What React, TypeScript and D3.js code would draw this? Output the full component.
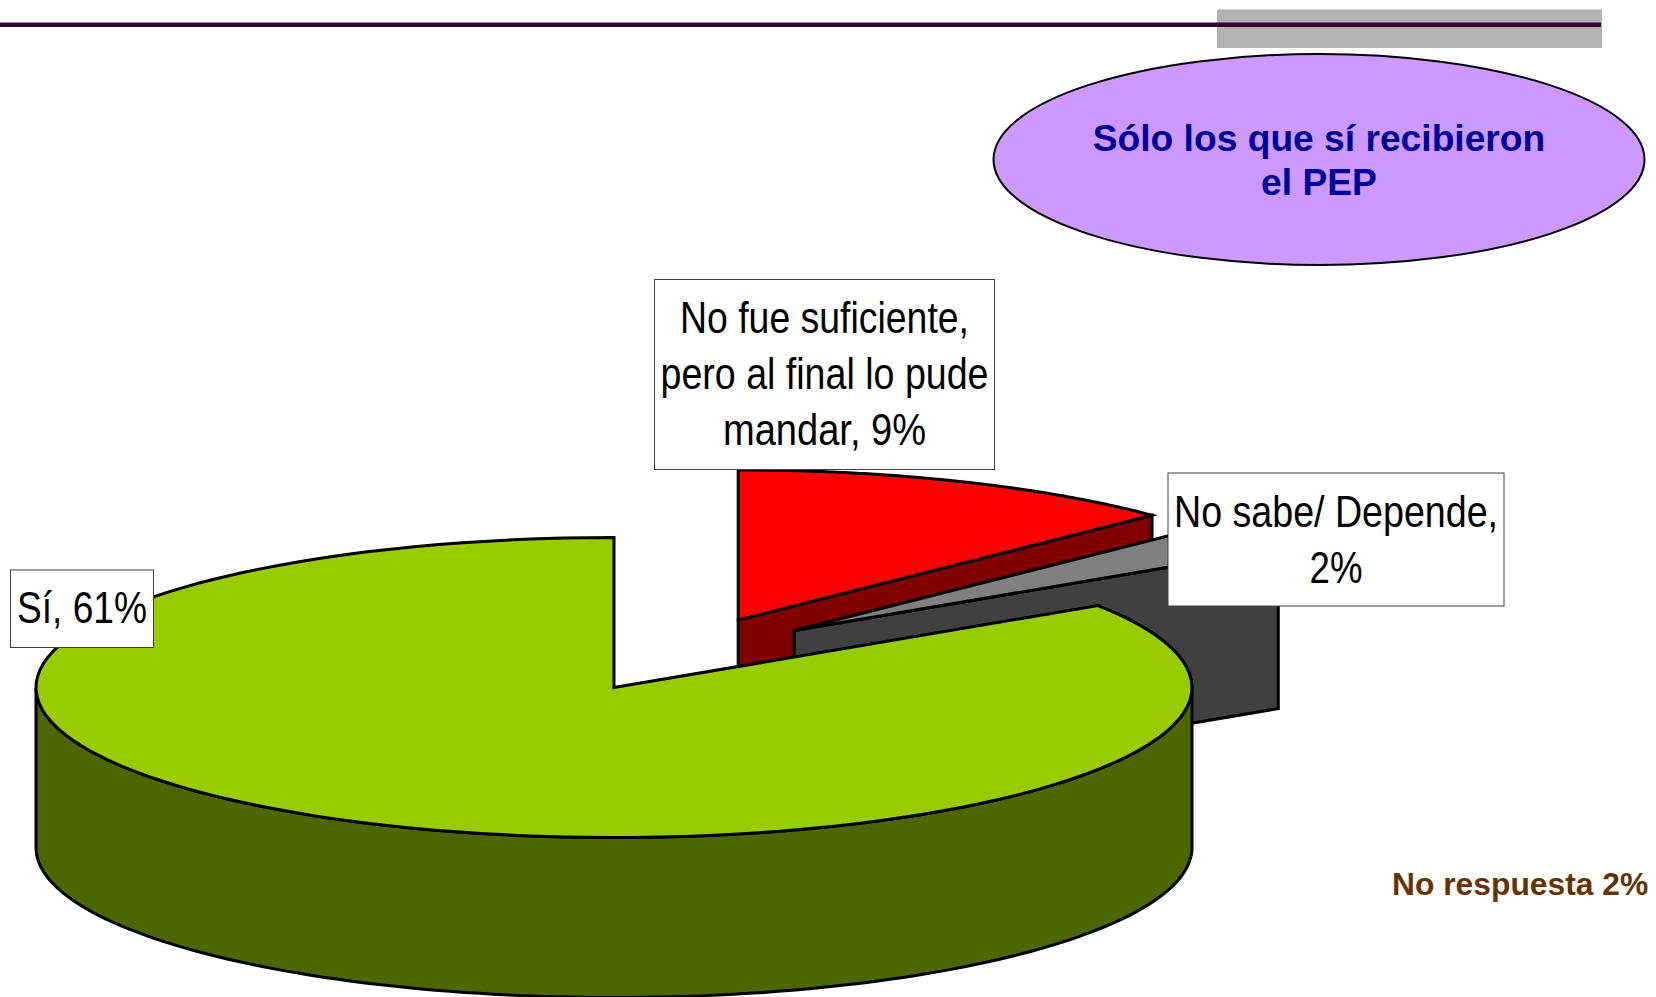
import React from "react";
import * as d3 from "d3";

// slice order round the pie, clockwise from 12 o'clock
const sliceNames = ["No fue suficiente", "No sabe", "Si"];
// share of the circle as actually drawn (the printed labels do not agree with it)
const drawnShares = [12.7, 3.1, 84.2];
const topColors = ["#ff0000", "#808080", "#99cc00"];
const wallColors = ["#800000", "#404040", "#4d6600"];

const labelLines = [
  ["No fue suficiente,", "pero al final lo pude", "mandar, 9%"],
  ["No sabe/ Depende,", "2%"],
  ["Sí, 61%"],
];
const labelWidths = [[289, 328, 203], [324, 53], [130]];
const noteText = "No respuesta 2%";
const badgeLines = ["Sólo los que sí recibieron", "el PEP"];

const width = 1656;
const height = 997;
const rx = 578;
const ry = 150;
const depth = 160;
const apexes = [
  { x: 738.2, y: 620 },
  { x: 794.2, y: 630.5 },
  { x: 614, y: 687.5 },
];
const boxes = [
  { x: 654.5, y: 279.5, w: 340, h: 190, base: 333 },
  { x: 1168, y: 473, w: 336, h: 133, base: 527 },
  { x: 10.5, y: 570, w: 143, h: 77.5, base: 623 },
];
const lineGap = 56;

const arcs = d3.pie<number>().sort(null)(drawnShares);
const pathLine = d3.line<[number, number]>();

// point on the rim of an exploded slice, angle clockwise from the top
const rim = (i: number, a: number, drop = 0): [number, number] => [
  apexes[i].x + rx * Math.sin(a),
  apexes[i].y - ry * Math.cos(a) + drop,
];

const sweep = (i: number, a0: number, a1: number, drop = 0) =>
  d3.range(0, 121).map((k) => rim(i, a0 + ((a1 - a0) * k) / 120, drop));

const topFace = (i: number) => {
  const { x, y } = apexes[i];
  const pts: [number, number][] = [[x, y], ...sweep(i, arcs[i].startAngle, arcs[i].endAngle)];
  return pathLine(pts) + "Z";
};

// flat wall under the cut at the end of a slice
const cutWall = (i: number) => {
  const { x, y } = apexes[i];
  const end = rim(i, arcs[i].endAngle);
  return (
    pathLine([
      [x, y],
      end,
      [end[0], end[1] + depth],
      [x, y + depth],
    ]) + "Z"
  );
};

// curved front of the big slice, from 3 o'clock round to 9 o'clock
const frontWall = () => {
  const front = sweep(2, Math.PI / 2, (3 * Math.PI) / 2);
  const back = sweep(2, (3 * Math.PI) / 2, Math.PI / 2, depth);
  return pathLine([...front, ...back]) + "Z";
};

const App = () => {
  const font = "'Liberation Sans', Arial, sans-serif";
  return (
    <svg
      width={width}
      height={height}
      style={{ position: "absolute", left: 0, top: 0, display: "block", background: "#fff" }}
      fontFamily={font}
    >
      <rect x={1217} y={9.5} width={385} height={38.5} fill="#b2b2b2" />
      <rect x={0} y={22.5} width={1601} height={4.5} fill="#330033" />

      <ellipse cx={1319} cy={159.5} rx={325.5} ry={105.5} fill="#cc99ff" stroke="#000" strokeWidth={2} />
      {badgeLines.map((t, i) => (
        <text
          key={t}
          x={1319}
          y={151 + i * 44}
          textAnchor="middle"
          fontSize={37.2}
          fontWeight="bold"
          fill="#000099"
        >
          {t}
        </text>
      ))}

      {[0, 1].map((i) => (
        <g key={sliceNames[i]} stroke="#000" strokeWidth={3} strokeLinejoin="miter">
          <path d={cutWall(i)} fill={wallColors[i]} />
          <path d={topFace(i)} fill={topColors[i]} />
        </g>
      ))}
      <g stroke="#000" strokeWidth={3}>
        <path d={frontWall()} fill={wallColors[2]} />
        <path d={topFace(2)} fill={topColors[2]} />
      </g>

      {boxes.map((b, i) => (
        <g key={sliceNames[i]}>
          <rect x={b.x} y={b.y} width={b.w} height={b.h} fill="#fff" stroke="#404040" strokeWidth={1} />
          {labelLines[i].map((t, j) => (
            <text
              key={t}
              x={b.x + b.w / 2}
              y={b.base + j * lineGap}
              textAnchor="middle"
              fontSize={45}
              fill="#000"
              textLength={labelWidths[i][j]}
              lengthAdjust="spacingAndGlyphs"
            >
              {t}
            </text>
          ))}
        </g>
      ))}

      <text x={1392} y={895} fontSize={31.8} fontWeight="bold" fill="#663300">
        {noteText}
      </text>
    </svg>
  );
};

export default App;
